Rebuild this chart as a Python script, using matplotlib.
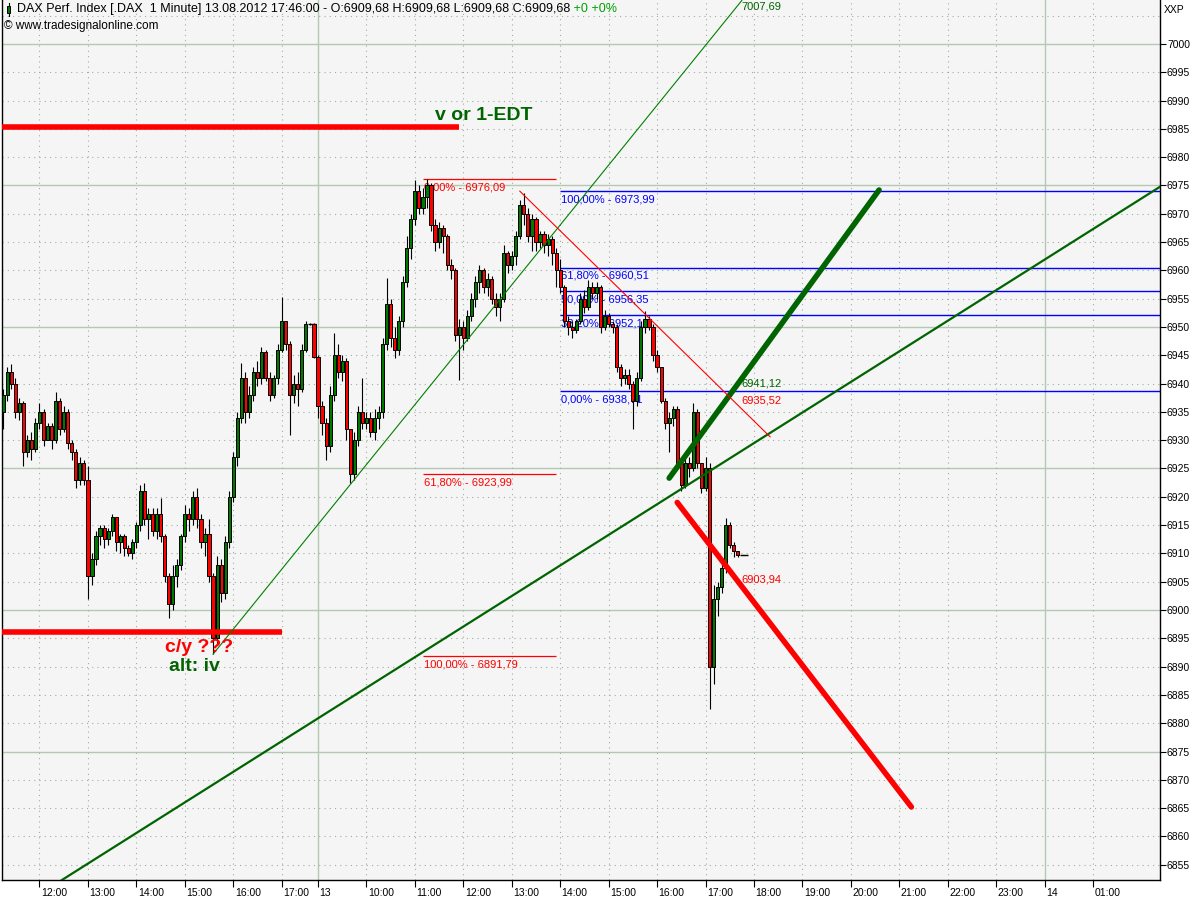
import matplotlib
matplotlib.use("Agg")
import matplotlib.pyplot as plt
import matplotlib.transforms as mtransforms
from matplotlib.patches import Rectangle
import pandas as pd

plt.rcParams["font.family"] = ["Liberation Sans", "DejaVu Sans"]
plt.rcParams["lines.scale_dashes"] = False

# ── colours ──────────────────────────────────────────────────────────────────
BG       = "#f5f5f5"
GRID_SOL = "#b4c8b4"
GRID_DOT = "#9cb09c"
UP_COL   = "#007800"
DN_COL   = "#ff0000"
DKGREEN  = "#006400"
RED      = "#ff0000"
BLUE     = "#0000ff"

# ── 5-minute bars, 10.08.2012 (11:15 .. 17:40) ───────────────────────────────
FIRST_OPEN = 6935.0
D1_CLOSE = [
    6938, 6942, 6940, 6935, 6936.5, 6928, 6930, 6928.5, 6933, 6935,
    6930, 6932.5, 6930, 6937, 6932, 6935, 6929.5, 6928, 6923, 6926,
    6923, 6906, 6909, 6913, 6914.5, 6912.5, 6914, 6916.5, 6912, 6913,
    6911, 6910, 6912, 6915, 6921, 6916, 6917, 6914, 6917, 6913,
    6906, 6901, 6906, 6908, 6913, 6917, 6916, 6920, 6916, 6912,
    6913.5, 6906, 6895, 6908, 6903, 6912, 6920, 6927, 6934, 6941,
    6935, 6938, 6942, 6941, 6945.5, 6941, 6938, 6941, 6946, 6951,
    6947, 6938, 6940, 6939, 6946, 6950.5, 6950.5, 6944.7,
]
D1_HIGH = [
    6939, 6943, 6943.5, 6941, 6937.5, 6937, 6931, 6931.5, 6934, 6936.5,
    6935.5, 6933, 6933, 6938.5, 6937.5, 6936, 6935.5, 6930, 6928.5, 6927,
    6926.5, 6925.5, 6910, 6914, 6915, 6915, 6914.5, 6917, 6916.5, 6913.5,
    6913.5, 6911.5, 6912.5, 6915.5, 6922, 6922.5, 6918, 6918, 6918, 6919.8,
    6913.5, 6906.5, 6908, 6909, 6913.5, 6918.5, 6918, 6921, 6921.5, 6917,
    6914.5, 6916, 6906.5, 6909.5, 6909, 6913, 6921, 6928, 6935, 6943.6,
    6942, 6939.5, 6943, 6944, 6946.5, 6946, 6942, 6941.5, 6947, 6955.3,
    6951, 6947.5, 6941.5, 6942, 6947, 6951, 6950.7, 6950.7,
]
D1_LOW = [
    6932, 6937, 6939, 6934, 6933.5, 6925.5, 6927, 6926.5, 6928, 6932,
    6929, 6930, 6928.5, 6929.5, 6931, 6931.5, 6928.5, 6926.5, 6921.5, 6922,
    6922, 6902, 6904.5, 6908, 6911.5, 6911, 6911.5, 6913, 6910.5, 6910,
    6909.5, 6909.5, 6909, 6911, 6914, 6915, 6912.5, 6913, 6912.5, 6912,
    6905, 6898.6, 6900, 6904, 6907, 6912, 6914, 6915, 6914.5, 6911,
    6909.5, 6905, 6892.2, 6894, 6901.5, 6902, 6911, 6919, 6925.5, 6933,
    6933, 6934, 6937, 6939.5, 6940, 6940.5, 6937, 6937.5, 6940, 6945.5,
    6946, 6931, 6936.5, 6936, 6938.5, 6945.5, 6950.3, 6944.5,
]

# ── 5-minute bars, 13.08.2012 (09:00 .. 17:45) ───────────────────────────────
D2_CLOSE = [
    6936, 6933, 6929, 6938, 6945, 6942, 6944, 6932, 6924, 6930,
    6935, 6933, 6934, 6931.5, 6934, 6935, 6947, 6954, 6948, 6946,
    6951, 6958, 6964, 6969, 6974, 6971, 6973, 6975, 6968, 6965,
    6967.5, 6966, 6961, 6960, 6948.5, 6950, 6948, 6952, 6955, 6958,
    6960, 6957, 6958.5, 6955, 6953.5, 6955, 6963, 6961, 6962.5, 6966,
    6971.5, 6970, 6966, 6969, 6965, 6966.5, 6964.5, 6965.5, 6963, 6960,
    6957, 6951, 6950, 6949.5, 6951, 6955, 6953.5, 6957, 6956, 6957,
    6950, 6952, 6950.5, 6950, 6943, 6941, 6941.5, 6940, 6937, 6941,
    6950, 6951.5, 6950, 6945, 6943, 6937, 6933, 6934, 6935.5, 6926,
    6922, 6926, 6925, 6935, 6926, 6921.5, 6925, 6890, 6902, 6904,
    6907.5, 6915, 6911.5, 6910.5, 6909.68, 6909.68,
]
D2_HIGH = [
    6945, 6937, 6934, 6939.5, 6949, 6947, 6945, 6944.5, 6932, 6931.5,
    6936, 6941, 6935, 6935, 6935.5, 6936, 6948, 6958.6, 6955, 6950,
    6952, 6959, 6966, 6970, 6976, 6975, 6974.5, 6976.09, 6975.5, 6969,
    6968.5, 6968, 6966.5, 6962, 6960.5, 6951.5, 6951, 6953, 6956, 6959,
    6961, 6960.5, 6959.5, 6959, 6956, 6956, 6964.5, 6963.5, 6963.5, 6967,
    6972.5, 6973.7, 6971, 6970, 6969.5, 6967, 6967, 6966.5, 6966, 6964,
    6962, 6957.5, 6952, 6951, 6951.5, 6956, 6956.5, 6958.3, 6958, 6958,
    6957.5, 6953, 6952.5, 6951, 6950.5, 6943.5, 6942.5, 6942.5, 6940.5, 6942,
    6951, 6952.8, 6952, 6950.5, 6946, 6943, 6937.5, 6935, 6936, 6936,
    6926.5, 6927, 6927, 6936.6, 6935.5, 6926, 6927, 6926, 6904.5, 6905,
    6908.5, 6916.3, 6915.5, 6912, 6910.5, 6909.68,
]
D2_LOW = [
    6934, 6931, 6926.5, 6928, 6937, 6941, 6940.5, 6930, 6922.4, 6923,
    6929, 6932, 6932, 6930.5, 6930, 6932, 6934, 6946, 6946.5, 6944.5,
    6945, 6950, 6957, 6962, 6968, 6970, 6970, 6971, 6967, 6963.5,
    6964, 6963, 6960, 6958.5, 6947.5, 6940.6, 6946, 6947.5, 6951, 6953.5,
    6956, 6956, 6955.5, 6954, 6952, 6951, 6954.5, 6959.5, 6960, 6961,
    6965.5, 6968, 6965, 6963.5, 6963.5, 6964, 6963, 6962.5, 6961, 6957,
    6956, 6950, 6948.5, 6948, 6949, 6950.5, 6952.5, 6953, 6955, 6955,
    6949, 6949.5, 6950, 6949, 6942, 6939.5, 6940, 6939, 6932, 6936,
    6940.5, 6949, 6949.5, 6944, 6942, 6936.5, 6932, 6928, 6932.5, 6925,
    6921, 6921.5, 6923.5, 6924.5, 6925, 6920.7, 6921, 6882.5, 6887, 6899,
    6903, 6906.5, 6911, 6909.4, 6909.4, 6909.68,
]

# ── drawn studies (time, price) ──────────────────────────────────────────────
TREND_THIN    = [("2012-08-10 15:35", 6892.2), ("2012-08-13 17:45", 7007.69)]
TREND_LONG    = [("2012-08-10 12:30", 6852.5), ("2012-08-14 01:00", 6967.3)]
TREND_THICK   = [("2012-08-13 16:15", 6923.3), ("2012-08-13 20:35", 6974.2)]
RED_THIN      = [("2012-08-13 13:10", 6974.0), ("2012-08-13 18:20", 6930.6)]
RED_THICK     = [("2012-08-13 16:25", 6919.0), ("2012-08-13 21:15", 6865.2)]
RED_UPPER     = (6985.3, "2012-08-13 11:55")
RED_LOWER     = (6896.1, "2012-08-10 17:00")

FIB1_SPAN   = ("2012-08-13 11:10", "2012-08-13 13:55")
FIB1_LABELS = ["0,00%", "61,80%", "100,00%"]
FIB1_LEVELS = [6976.09, 6923.99, 6891.79]
FIB2_START  = "2012-08-13 14:00"
FIB2_LABELS = ["100,00%", "61,80%", "50,00%", "38,20%", "0,00%"]
FIB2_LEVELS = [6973.99, 6960.51, 6956.35, 6952.19, 6938.71]

# values shown at the last bar for the drawn lines
VALUE_TEXT = ["7007,69", "6941,12", "6935,52", "6903,94"]
VALUE_AT   = [7007.69, 6941.12, 6935.52, 6903.94]
VALUE_COL  = [DKGREEN, DKGREEN, RED, RED]
VALUE_DY   = [-6, -6, 8, 8]   # pixel nudge, as the platform stacks them

# ── time axis (session slots, overnight removed) ─────────────────────────────
axis_slots = (list(pd.date_range("2012-08-10 11:15", "2012-08-10 17:40", freq="5min"))
              + list(pd.date_range("2012-08-13 09:00", "2012-08-14 01:55", freq="5min")))
slot = {t: i for i, t in enumerate(axis_slots)}


def pos(t):
    return slot[pd.Timestamp(t)]


times  = (list(pd.date_range("2012-08-10 11:15", periods=len(D1_CLOSE), freq="5min"))
          + list(pd.date_range("2012-08-13 09:00", periods=len(D2_CLOSE), freq="5min")))
closes = D1_CLOSE + D2_CLOSE
highs  = D1_HIGH + D2_HIGH
lows   = D1_LOW + D2_LOW
opens  = [FIRST_OPEN] + closes[:-1]
xs     = [pos(t) for t in times]

# ── figure ───────────────────────────────────────────────────────────────────
fig = plt.figure(figsize=(12, 9), dpi=100)
fig.patch.set_facecolor("white")
ax = fig.add_axes([2 / 1200, 20 / 900, 1158 / 1200, 880 / 900])
ax.set_facecolor(BG)
XMIN, XMAX = -0.29, 286.6
ax.set_xlim(XMIN, XMAX)
ax.set_ylim(6852.3, 7007.77)

# grid
for lv in range(6855, 7006, 5):
    if lv % 25 == 0:
        ax.axhline(lv, color=GRID_SOL, lw=1.0, zorder=1)
    else:
        ax.axhline(lv, color=GRID_DOT, lw=0.8, ls=(0, (0.8, 3.0)), zorder=1)

tick_pos, tick_lab = [], []
for i, t in enumerate(axis_slots):
    if t.minute != 0:
        continue
    new_day = i > 0 and axis_slots[i - 1].date() != t.date()
    tick_pos.append(i)
    tick_lab.append(str(t.day) if new_day else t.strftime("%H:%M"))
    if new_day:
        ax.axvline(i, color=GRID_SOL, lw=1.0, zorder=1)
    else:
        ax.axvline(i, color=GRID_DOT, lw=0.8, ls=(0, (0.8, 3.0)), zorder=1)

# fibonacci retracements (under the candles)
f0, f1 = pos(FIB1_SPAN[0]), pos(FIB1_SPAN[1])
for lab, lv in zip(FIB1_LABELS, FIB1_LEVELS):
    ax.hlines(lv, f0, f1, color=RED, lw=0.9, zorder=2)
    ax.annotate(f"{lab} - {lv:.2f}".replace(".", ","), (f0, lv),
                xytext=(0.5, -2.5), textcoords="offset points",
                ha="left", va="top", fontsize=8, color=RED, zorder=2)
g0 = pos(FIB2_START)
for lab, lv in zip(FIB2_LABELS, FIB2_LEVELS):
    ax.hlines(lv, g0, XMAX, color=BLUE, lw=1.0, zorder=2)
    ax.annotate(f"{lab} - {lv:.2f}".replace(".", ","), (g0, lv),
                xytext=(0.5, -2.5), textcoords="offset points",
                ha="left", va="top", fontsize=8, color=BLUE, zorder=2)

# candles
BW = 0.78
ax.vlines(xs, lows, highs, color="black", lw=0.8, zorder=4)
for x, o, c in zip(xs, opens, closes):
    if o == c:
        ax.hlines(c, x - 0.4, x + 1.6, color="black", lw=1.0, zorder=5)
        continue
    ax.add_patch(Rectangle((x - BW / 2, min(o, c)), BW, abs(c - o),
                           fc=UP_COL if c > o else DN_COL, ec="black",
                           lw=0.7, zorder=5))

# horizontal red marks
ax.hlines(RED_UPPER[0], XMIN, pos(RED_UPPER[1]), color=RED, lw=4.0, zorder=6)
ax.hlines(RED_LOWER[0], XMIN, pos(RED_LOWER[1]), color=RED, lw=4.0, zorder=6)


def seg(pts, **kw):
    (t1, p1), (t2, p2) = pts
    ax.plot([pos(t1), pos(t2)], [p1, p2], zorder=6, **kw)


seg(TREND_THIN, color="#008000", lw=0.8)
(t1, p1), (t2, p2) = TREND_LONG
ax.axline((pos(t1), p1), (pos(t2), p2), color=DKGREEN, lw=1.6, zorder=6)
seg(TREND_THICK, color=DKGREEN, lw=4.0, solid_capstyle="round")
seg(RED_THIN, color=RED, lw=0.8)
seg(RED_THICK, color=RED, lw=4.0, solid_capstyle="round")

last_x = xs[-1]
for txt, val, col, dy in zip(VALUE_TEXT, VALUE_AT, VALUE_COL, VALUE_DY):
    ax.annotate(txt, (last_x, val), xytext=(0, dy), textcoords="offset pixels",
                ha="left", va="center", fontsize=8, color=col, zorder=7)

# wave labels
ax.text(pos("2012-08-13 11:25"), 6987.3, "v or 1-EDT", color=DKGREEN,
        fontsize=14, fontweight="bold", va="center", ha="left", zorder=7)
ax.text(pos("2012-08-10 14:35"), 6893.3, "c/y ???", color=RED,
        fontsize=14, fontweight="bold", va="center", ha="left", zorder=7)
ax.text(pos("2012-08-10 14:40"), 6890.0, "alt: iv", color=DKGREEN,
        fontsize=14, fontweight="bold", va="center", ha="left", zorder=7)

# axes / ticks
ax.set_yticks(range(6855, 7001, 5))
ax.yaxis.tick_right()
ax.tick_params(axis="y", direction="out", length=4, width=0.8, pad=1,
               labelsize=7.5)
ax.set_xticks(tick_pos)
ax.set_xticklabels(tick_lab)
ax.tick_params(axis="x", direction="out", length=5, width=0.8, pad=1,
               labelsize=7.5)
shift = mtransforms.ScaledTranslation(1.5 / 100, 0, fig.dpi_scale_trans)
for lab in ax.get_xticklabels():
    lab.set_ha("left")
    lab.set_transform(lab.get_transform() + shift)
for side in ("left", "bottom", "right"):
    ax.spines[side].set_color("black")
    ax.spines[side].set_linewidth(1.0)
ax.spines["top"].set_visible(False)

# header with the small candle symbol
ax.add_patch(Rectangle((5 / 1158, 1 - 13 / 880), 3 / 1158, 7 / 880,
                       transform=ax.transAxes, fc=UP_COL, ec="black", lw=0.7,
                       zorder=8))
ax.plot([6.5 / 1158, 6.5 / 1158], [1 - 16 / 880, 1 - 3 / 880],
        transform=ax.transAxes, color="black", lw=0.8, zorder=7)
head = fig.text(17 / 1200, 1 - 9 / 900,
                "DAX Perf. Index [.DAX  1 Minute] 13.08.2012 17:46:00 - "
                "O:6909,68 H:6909,68 L:6909,68 C:6909,68",
                fontsize=9, va="center", ha="left")
ax.annotate(" +0 +0%", xy=(1, 0.5), xycoords=head, fontsize=9,
            color="#00a000", va="center", ha="left")
fig.text(4 / 1200, 1 - 26 / 900, "\u00a9 www.tradesignalonline.com",
         fontsize=8.5, va="center", ha="left")
fig.text(1164 / 1200, 1 - 10 / 900, "XXP", fontsize=7.5, va="center", ha="left")

fig.savefig("out.png", dpi=100, facecolor="white")
